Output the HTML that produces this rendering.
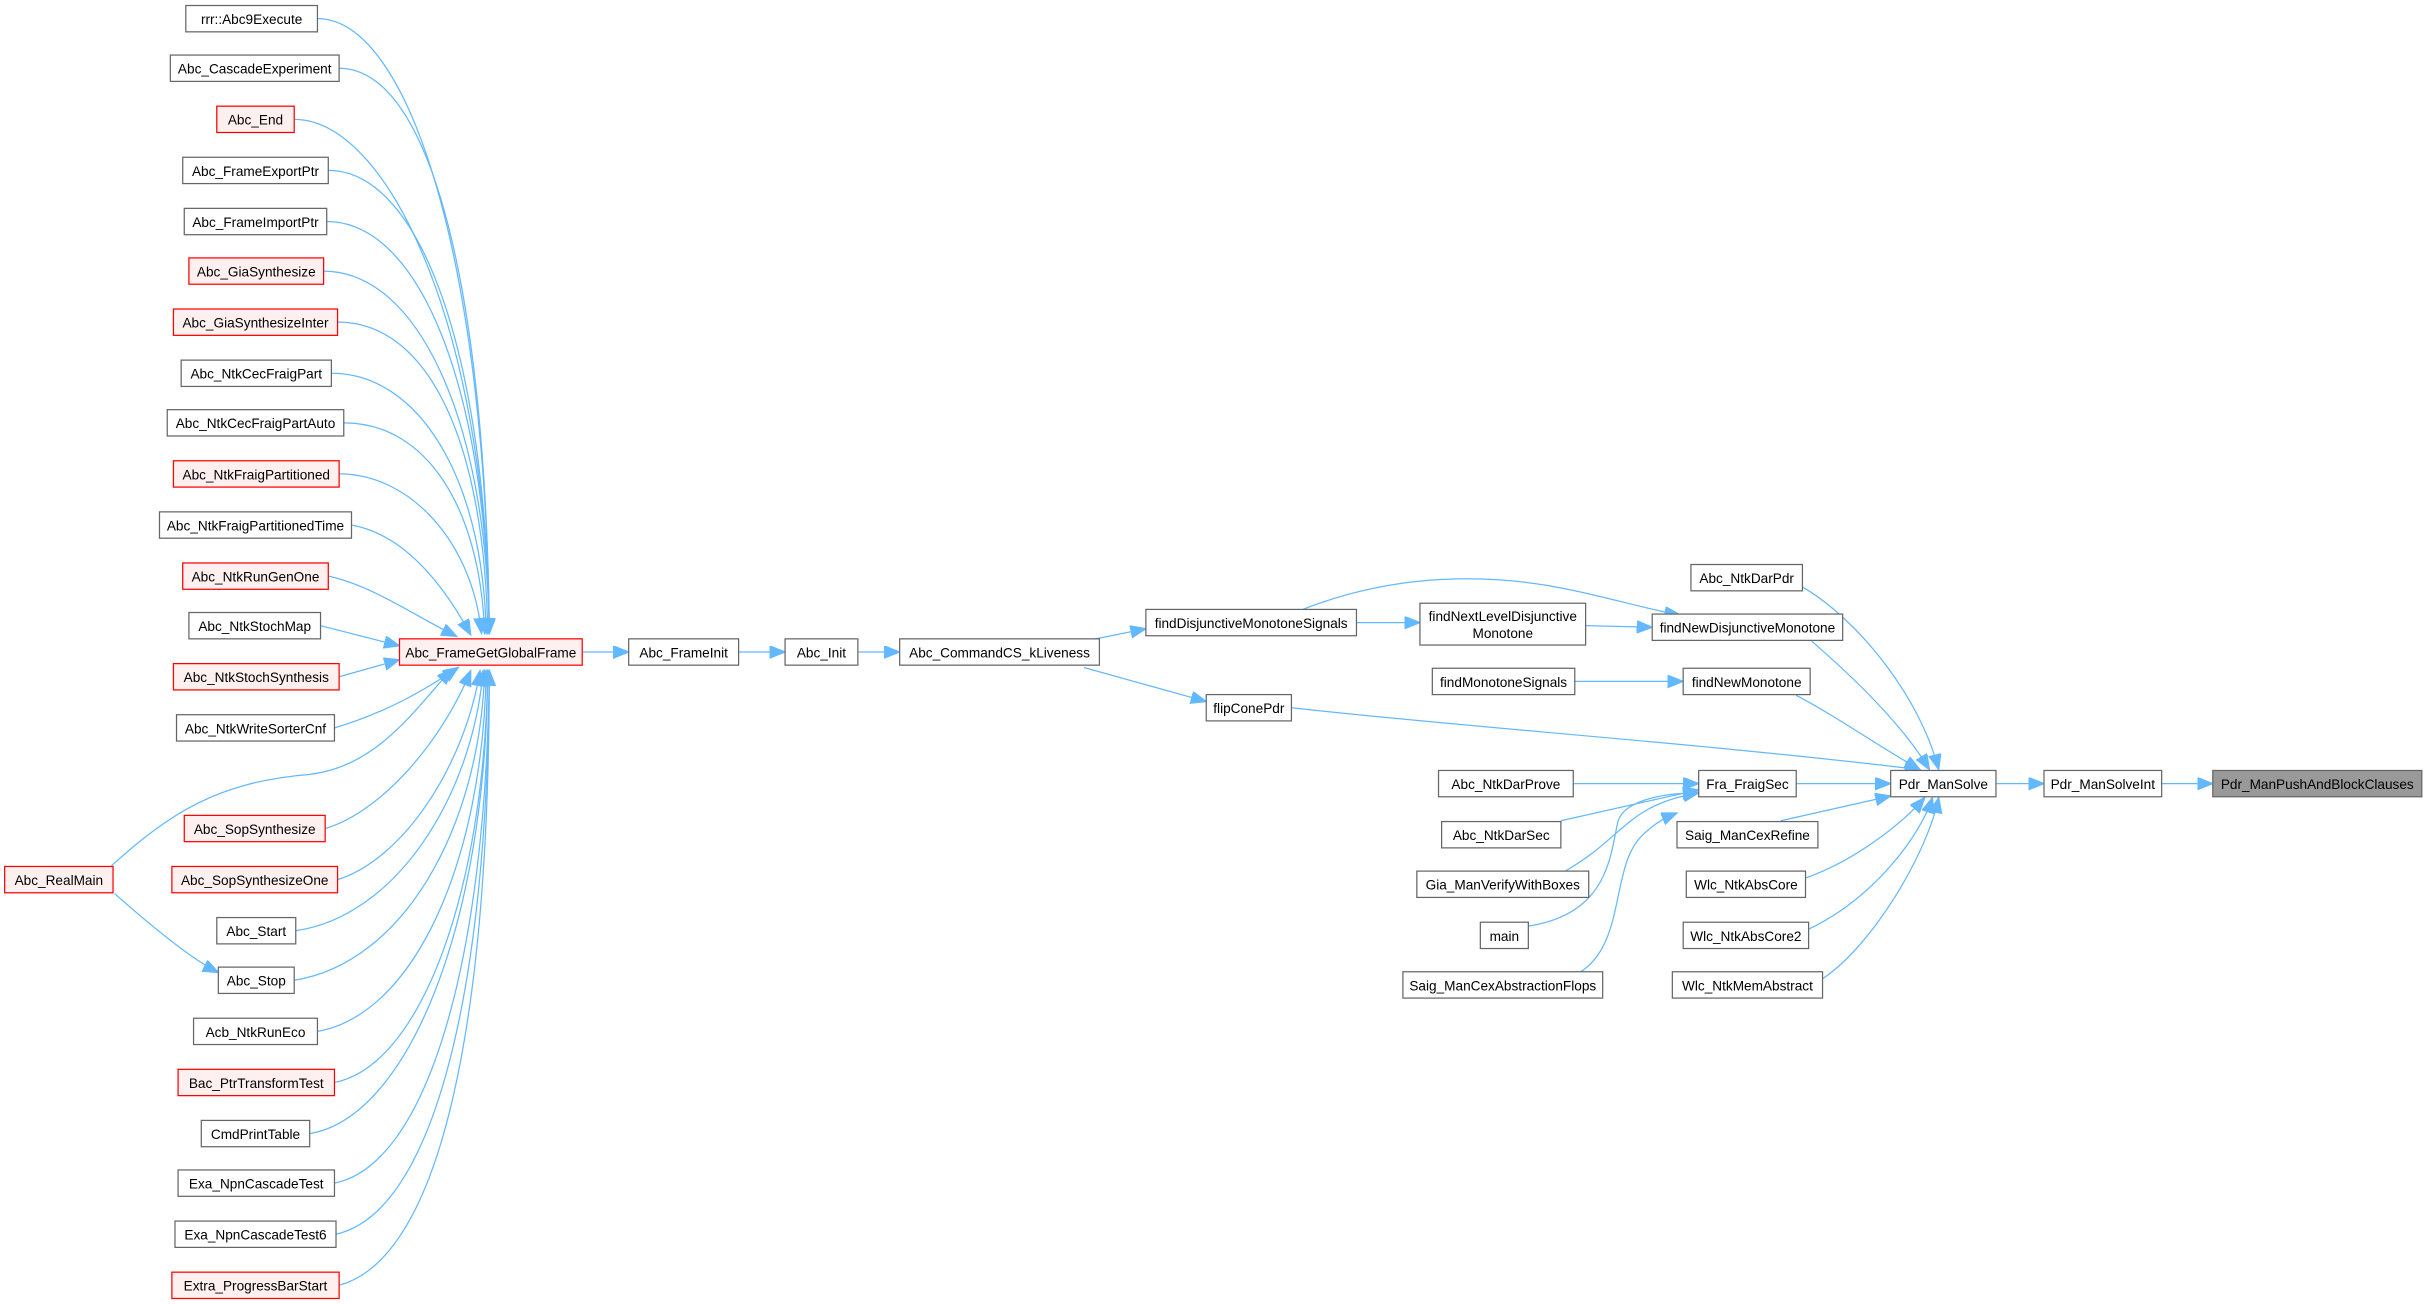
<!DOCTYPE html>
<html><head><meta charset="utf-8"><style>
html,body{margin:0;padding:0;background:#fff;}
svg{display:block;}
text{font-family:"Liberation Sans",Arial,sans-serif;font-size:8.8px;fill:#000;text-anchor:middle;}
.n{fill:#fff;stroke:#666;stroke-width:0.8;}
.r{fill:#fff0f0;stroke:#f00;stroke-width:0.8;}
.g{fill:#999;stroke:#666;stroke-width:0.8;}
.e{fill:none;stroke:#63b8ff;stroke-width:0.8;marker-end:url(#a);}
</style></head><body>
<svg width="2428" height="1304" viewBox="0 0 1568 842" xmlns="http://www.w3.org/2000/svg">
<defs><marker id="a" markerUnits="userSpaceOnUse" markerWidth="12" markerHeight="10" refX="10" refY="4" orient="auto"><path d="M0,0 L10,4 L0,8 z" fill="#63b8ff" stroke="#63b8ff" stroke-width="0.8"/></marker></defs>

<path class="e" d="M205,12 C265,12 314,172 316,409"/>
<path class="e" d="M219,44 C279,44 314,191 316,409"/>
<path class="e" d="M190,77 C250,77 314,210 316,409"/>
<path class="e" d="M212,110 C272,110 314,230 316,409"/>
<path class="e" d="M211,143 C271,143 314,250 316,409"/>
<path class="e" d="M209,175 C269,175 314,269 316,409"/>
<path class="e" d="M218,208 C278,208 313,288 315,409"/>
<path class="e" d="M214,241 C270,241 312,308 314,409"/>
<path class="e" d="M222,273 C275,273 310,327 313,409"/>
<path class="e" d="M219,306 C265,306 305,350 311,409"/>
<path class="e" d="M227,339 C260,345 285,375 304,410"/>
<path class="e" d="M212,372 C240,378 265,396 295,411"/>
<path class="e" d="M207,404 L258,417"/>
<path class="e" d="M219,437 L258,426"/>
<path class="e" d="M216,470 C250,460 275,445 296,431"/>
<path class="e" d="M72,559 C110,525 140,505 200,500 C245,495 270,455 292,432"/>
<path class="e" d="M210,535 C245,525 285,480 304,433"/>
<path class="e" d="M218,568 C260,555 300,495 310,433"/>
<path class="e" d="M191,601 C255,592 305,515 312,433"/>
<path class="e" d="M190,633 C260,622 310,535 313,433"/>
<path class="e" d="M205,666 C268,655 312,555 314,433"/>
<path class="e" d="M216,699 C272,688 313,575 315,433"/>
<path class="e" d="M200,732 C262,722 314,600 315,433"/>
<path class="e" d="M216,764 C276,752 314,620 316,433"/>
<path class="e" d="M217,797 C280,783 315,640 316,433"/>
<path class="e" d="M219,830 C285,812 316,660 316,433"/>
<path class="e" d="M74,577 C100,600 125,620 141,628"/>

<path class="e" d="M376,421 L406,421"/>
<path class="e" d="M477,421 L507,421"/>
<path class="e" d="M554,421 L581,421"/>
<path class="e" d="M705,413 L740,406"/>
<path class="e" d="M700,431 L779,453"/>
<path class="e" d="M876,402 L917,402"/>
<path class="e" d="M840,394 C900,370 960,370 1010,380 C1040,386 1070,395 1085,397"/>
<path class="e" d="M1024,404 L1067,405"/>
<path class="e" d="M1017,440 L1087,440"/>
<path class="e" d="M834,457 C950,470 1100,480 1240,497"/>
<path class="e" d="M1160,449 C1190,465 1210,480 1240,497"/>
<path class="e" d="M1170,414 C1200,440 1230,470 1246,497"/>
<path class="e" d="M1164,379 C1200,400 1240,450 1252,497"/>
<path class="e" d="M1160,506 L1221,506"/>
<path class="e" d="M1150,530 L1221,514"/>
<path class="e" d="M1166,567 C1200,555 1230,530 1243,515"/>
<path class="e" d="M1168,600 C1210,580 1240,540 1248,515"/>
<path class="e" d="M1177,632 C1210,610 1245,550 1252,515"/>
<path class="e" d="M1289,506 L1320,506"/>
<path class="e" d="M1396,506 L1429,506"/>
<path class="e" d="M1016,506 L1097,506"/>
<path class="e" d="M1008,530 L1097,510"/>
<path class="e" d="M1010,563 C1050,540 1050,520 1097,512"/>
<path class="e" d="M987,598 C1040,590 1040,550 1045,530 C1050,515 1080,512 1097,512"/>
<path class="e" d="M1020,628 C1050,610 1040,560 1060,540 C1070,530 1078,527 1083,525"/>

<rect class="n" x="120" y="3.5" width="85" height="17"/><text x="162.5" y="15.5">rrr::Abc9Execute</text>
<rect class="n" x="110" y="35.5" width="109" height="17"/><text x="164.5" y="47.5">Abc_CascadeExperiment</text>
<rect class="r" x="140" y="68.5" width="50" height="17"/><text x="165" y="80.5">Abc_End</text>
<rect class="n" x="118" y="101.5" width="94" height="17"/><text x="165" y="113.5">Abc_FrameExportPtr</text>
<rect class="n" x="119" y="134.5" width="92" height="17"/><text x="165" y="146.5">Abc_FrameImportPtr</text>
<rect class="r" x="122" y="166.5" width="87" height="17"/><text x="165.5" y="178.5">Abc_GiaSynthesize</text>
<rect class="r" x="112" y="199.5" width="106" height="17"/><text x="165" y="211.5">Abc_GiaSynthesizeInter</text>
<rect class="n" x="117" y="232.5" width="97" height="17"/><text x="165.5" y="244.5">Abc_NtkCecFraigPart</text>
<rect class="n" x="108" y="264.5" width="114" height="17"/><text x="165" y="276.5">Abc_NtkCecFraigPartAuto</text>
<rect class="r" x="112" y="297.5" width="107" height="17"/><text x="165.5" y="309.5">Abc_NtkFraigPartitioned</text>
<rect class="n" x="103" y="330.5" width="124" height="17"/><text x="165" y="342.5">Abc_NtkFraigPartitionedTime</text>
<rect class="r" x="118" y="363.5" width="94" height="17"/><text x="165" y="375.5">Abc_NtkRunGenOne</text>
<rect class="n" x="122" y="395.5" width="85" height="17"/><text x="164.5" y="407.5">Abc_NtkStochMap</text>
<rect class="r" x="112" y="428.5" width="107" height="17"/><text x="165.5" y="440.5">Abc_NtkStochSynthesis</text>
<rect class="n" x="114" y="461.5" width="102" height="17"/><text x="165" y="473.5">Abc_NtkWriteSorterCnf</text>
<rect class="r" x="119" y="526.5" width="91" height="17"/><text x="164.5" y="538.5">Abc_SopSynthesize</text>
<rect class="r" x="111" y="559.5" width="107" height="17"/><text x="164.5" y="571.5">Abc_SopSynthesizeOne</text>
<rect class="n" x="140" y="592.5" width="51" height="17"/><text x="165.5" y="604.5">Abc_Start</text>
<rect class="n" x="141" y="624.5" width="49" height="17"/><text x="165.5" y="636.5">Abc_Stop</text>
<rect class="n" x="125" y="657.5" width="80" height="17"/><text x="165" y="669.5">Acb_NtkRunEco</text>
<rect class="r" x="115" y="690.5" width="101" height="17"/><text x="165.5" y="702.5">Bac_PtrTransformTest</text>
<rect class="n" x="130" y="723.5" width="70" height="17"/><text x="165" y="735.5">CmdPrintTable</text>
<rect class="n" x="115" y="755.5" width="101" height="17"/><text x="165.5" y="767.5">Exa_NpnCascadeTest</text>
<rect class="n" x="113" y="788.5" width="104" height="17"/><text x="165" y="800.5">Exa_NpnCascadeTest6</text>
<rect class="r" x="111" y="821.5" width="108" height="17"/><text x="165" y="833.5">Extra_ProgressBarStart</text>
<rect class="r" x="3" y="559.5" width="70" height="17"/><text x="38" y="571.5">Abc_RealMain</text>

<rect class="r" x="258" y="412.5" width="118" height="17"/><text x="317" y="424.5">Abc_FrameGetGlobalFrame</text>
<rect class="n" x="406" y="412.5" width="71" height="17"/><text x="441.5" y="424.5">Abc_FrameInit</text>
<rect class="n" x="507" y="412.5" width="47" height="17"/><text x="530.5" y="424.5">Abc_Init</text>
<rect class="n" x="581" y="412.5" width="129" height="17"/><text x="645.5" y="424.5">Abc_CommandCS_kLiveness</text>
<rect class="n" x="740" y="393.5" width="136" height="17"/><text x="808" y="405.5">findDisjunctiveMonotoneSignals</text>
<rect class="n" x="917" y="389.5" width="107" height="27"/><text x="970.5" y="401">findNextLevelDisjunctive</text><text x="970.5" y="412">Monotone</text>
<rect class="n" x="1067" y="396.5" width="123" height="17"/><text x="1128.5" y="408.5">findNewDisjunctiveMonotone</text>
<rect class="n" x="1092" y="364.5" width="72" height="17"/><text x="1128" y="376.5">Abc_NtkDarPdr</text>
<rect class="n" x="925" y="431.5" width="92" height="17"/><text x="971" y="443.5">findMonotoneSignals</text>
<rect class="n" x="1087" y="431.5" width="82" height="17"/><text x="1128" y="443.5">findNewMonotone</text>
<rect class="n" x="779" y="448.5" width="55" height="17"/><text x="806.5" y="460.5">flipConePdr</text>
<rect class="n" x="929" y="497.5" width="87" height="17"/><text x="972.5" y="509.5">Abc_NtkDarProve</text>
<rect class="n" x="1097" y="497.5" width="63" height="17"/><text x="1128.5" y="509.5">Fra_FraigSec</text>
<rect class="n" x="1221" y="497.5" width="68" height="17"/><text x="1255" y="509.5">Pdr_ManSolve</text>
<rect class="n" x="1320" y="497.5" width="76" height="17"/><text x="1358" y="509.5">Pdr_ManSolveInt</text>
<rect class="g" x="1429" y="497.5" width="135" height="17"/><text x="1496.5" y="509.5">Pdr_ManPushAndBlockClauses</text>
<rect class="n" x="931" y="530.5" width="77" height="17"/><text x="969.5" y="542.5">Abc_NtkDarSec</text>
<rect class="n" x="1083" y="530.5" width="91" height="17"/><text x="1128.5" y="542.5">Saig_ManCexRefine</text>
<rect class="n" x="915" y="562.5" width="111" height="17"/><text x="970.5" y="574.5">Gia_ManVerifyWithBoxes</text>
<rect class="n" x="1089" y="562.5" width="77" height="17"/><text x="1127.5" y="574.5">Wlc_NtkAbsCore</text>
<rect class="n" x="956" y="595.5" width="31" height="17"/><text x="971.5" y="607.5">main</text>
<rect class="n" x="1087" y="595.5" width="81" height="17"/><text x="1127.5" y="607.5">Wlc_NtkAbsCore2</text>
<rect class="n" x="906" y="627.5" width="129" height="17"/><text x="970.5" y="639.5">Saig_ManCexAbstractionFlops</text>
<rect class="n" x="1080" y="627.5" width="97" height="17"/><text x="1128.5" y="639.5">Wlc_NtkMemAbstract</text>
</svg>
</body></html>
